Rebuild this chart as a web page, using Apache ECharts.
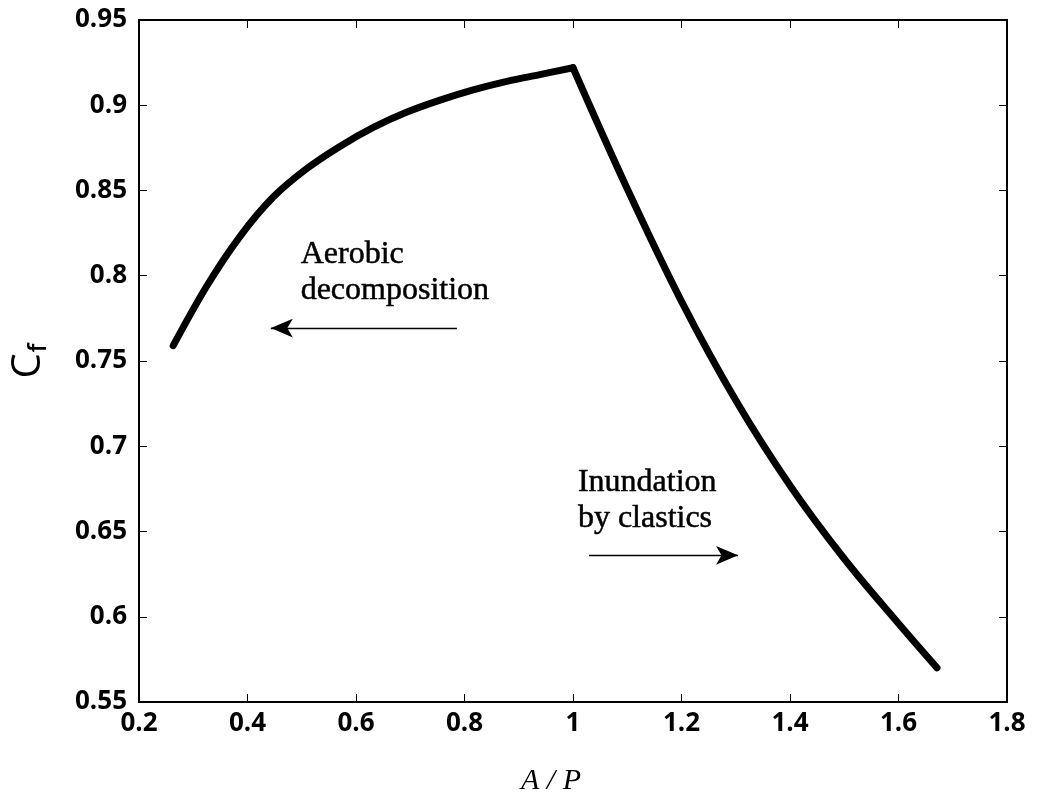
<!DOCTYPE html>
<html>
<head>
<meta charset="utf-8">
<script src="https://cdn.jsdelivr.net/npm/echarts@6/dist/echarts.min.js"></script>
<style>
html,body{margin:0;padding:0;background:#fff;}
#chart{width:1037px;height:801px;}
</style>
</head>
<body>
<div id="chart"></div>
<script>
// Left branch (aerobic decomposition), A/P vs Cf
var leftX = [0.263, 0.325, 0.386, 0.447, 0.510, 0.571, 0.632, 0.694, 0.755, 0.816, 0.878, 0.939, 1.000];
var leftY = [0.759, 0.794, 0.823, 0.846, 0.863, 0.876, 0.887, 0.896, 0.903, 0.909, 0.914, 0.918, 0.922];
// Right branch (inundation by clastics)
var rightX = [1.000, 1.100, 1.200, 1.300, 1.400, 1.500, 1.600, 1.671];
var rightY = [0.922, 0.851, 0.785, 0.727, 0.677, 0.634, 0.596, 0.570];
// Axis ticks
var xTicks = [0.2, 0.4, 0.6, 0.8, 1, 1.2, 1.4, 1.6, 1.8];
var yTicks = [0.55, 0.6, 0.65, 0.7, 0.75, 0.8, 0.85, 0.9, 0.95];
// Annotations
var annoText1 = 'Aerobic\ndecomposition';
var annoPos1 = [0.498, 0.8018];
var arrow1 = [[0.786, 0.7693], [0.443, 0.7693]];
var annoText2 = 'Inundation\nby clastics';
var annoPos2 = [1.009, 0.6684];
var arrow2 = [[1.0295, 0.636], [1.3042, 0.636]];

function zip(a, b) { return a.map(function (v, i) { return [v, b[i]]; }); }

var tickFont = { fontFamily: 'Open Sans', fontWeight: 700, fontSize: 26, color: '#000' };
var annoLabel = {
  show: true, position: 'right', distance: 0, align: 'left', verticalAlign: 'middle',
  fontFamily: 'Liberation Serif', fontSize: 32, lineHeight: 36, color: '#000',
  textBorderColor: '#000', textBorderWidth: 0.5, opacity: 1
};

var chart = echarts.init(document.getElementById('chart'));
chart.setOption({
  animation: false,
  backgroundColor: '#fff',
  grid: { left: 139, right: 30, top: 20, bottom: 97, containLabel: false },
  xAxis: [{
    type: 'value', min: xTicks[0], max: xTicks[xTicks.length - 1], interval: 0.2,
    axisLine: { show: true, onZero: false, lineStyle: { color: '#000', width: 2 } },
    axisTick: { show: true, inside: true, length: 8, lineStyle: { color: '#000', width: 1 } },
    splitLine: { show: false },
    axisLabel: Object.assign({ margin: 9, formatter: function (v) { return String(+v.toFixed(2)); } }, tickFont),
    name: 'A / P', nameLocation: 'middle', nameGap: 64,
    nameTextStyle: { fontFamily: 'Liberation Serif', fontStyle: 'italic', fontSize: 30, color: '#000', padding: [0, 44, 0, 0] }
  }, {
    type: 'value', position: 'top', min: xTicks[0], max: xTicks[xTicks.length - 1], interval: 0.2,
    axisLine: { show: true, onZero: false, lineStyle: { color: '#000', width: 2 } },
    axisTick: { show: true, inside: true, length: 8, lineStyle: { color: '#000', width: 1 } },
    axisLabel: { show: false }, splitLine: { show: false }
  }],
  yAxis: [{
    type: 'value', min: yTicks[0], max: yTicks[yTicks.length - 1], interval: 0.05,
    axisLine: { show: true, onZero: false, lineStyle: { color: '#000', width: 2 } },
    axisTick: { show: true, inside: true, length: 8, lineStyle: { color: '#000', width: 1 } },
    splitLine: { show: false },
    axisLabel: Object.assign({ margin: 12, formatter: function (v) { return String(+v.toFixed(2)); } }, tickFont),
    name: '{c|C}{f|f}', nameLocation: 'middle', nameGap: 88, nameRotate: 90,
    nameTextStyle: {
      rich: {
        c: { fontFamily: 'Open Sans', fontWeight: 500, fontSize: 40, color: '#000' },
        f: { fontFamily: 'Open Sans', fontWeight: 600, fontSize: 25, color: '#000', padding: [20, 0, 0, 1] }
      }
    }
  }, {
    type: 'value', position: 'right', min: yTicks[0], max: yTicks[yTicks.length - 1], interval: 0.05,
    axisLine: { show: true, onZero: false, lineStyle: { color: '#000', width: 2 } },
    axisTick: { show: true, inside: true, length: 8, lineStyle: { color: '#000', width: 1 } },
    axisLabel: { show: false }, splitLine: { show: false }
  }],
  series: [{
    type: 'line', data: zip(leftX, leftY), smooth: 0.35, showSymbol: false, symbol: 'none',
    lineStyle: { color: '#000', width: 7, cap: 'round', join: 'round' }
  }, {
    type: 'line', data: zip(rightX, rightY), smooth: 0.35, showSymbol: false, symbol: 'none',
    lineStyle: { color: '#000', width: 7, cap: 'round', join: 'round' }
  }, {
    type: 'scatter', symbolSize: 0, silent: true,
    data: [
      { value: annoPos1, label: Object.assign({}, annoLabel, { formatter: annoText1 }) },
      { value: annoPos2, label: Object.assign({}, annoLabel, { formatter: annoText2 }) }
    ],
    label: annoLabel,
    markLine: {
      silent: true, symbol: ['none', 'arrow'], symbolSize: [14, 22], precision: 4,
      label: { show: false },
      lineStyle: { color: '#000', width: 1.3, type: 'solid' },
      data: [
        [{ coord: arrow1[0] }, { coord: arrow1[1] }],
        [{ coord: arrow2[0] }, { coord: arrow2[1] }]
      ]
    }
  }]
});
</script>
</body>
</html>
